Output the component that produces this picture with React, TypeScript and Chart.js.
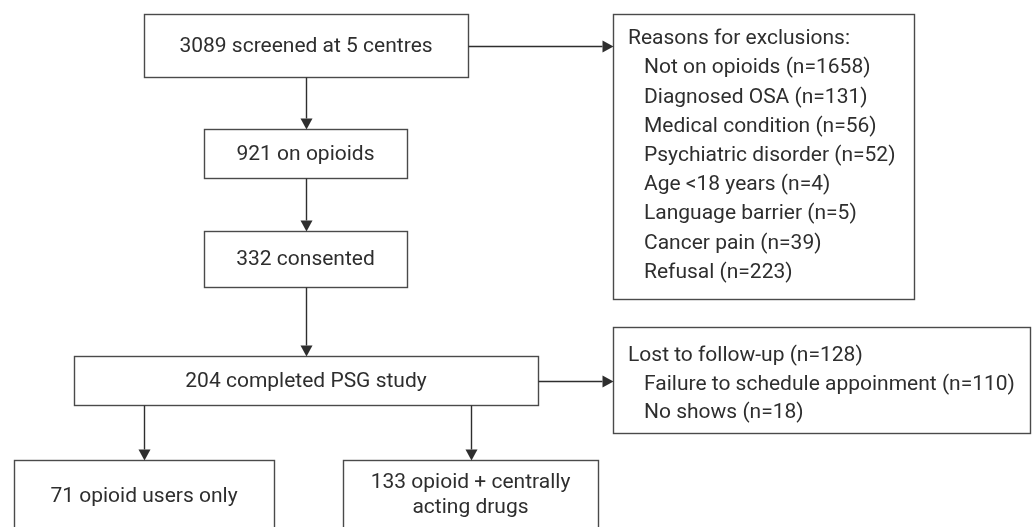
import React, { useEffect, useRef } from "react";
import { Chart, registerables } from "chart.js";

Chart.register(...registerables);

// ---------- DATA ----------
const flowCounts = [3089, 921, 332, 204];
const flowLabels = ["screened at 5 centres", "on opioids", "consented", "completed PSG study"];

const exclusionTitle = "Reasons for exclusions:";
const exclusionReasons = [
  "Not on opioids",
  "Diagnosed OSA",
  "Medical condition",
  "Psychiatric disorder",
  "Age <18 years",
  "Language barrier",
  "Cancer pain",
  "Refusal",
];
const exclusionCounts = [1658, 131, 56, 52, 4, 5, 39, 223];

const lostTitle = "Lost to follow-up";
const lostTotal = 128;
const lostReasons = ["Failure to schedule appoinment", "No shows"];
const lostCounts = [110, 18];

const groupCounts = [71, 133];
const groupLabels = [["opioid users only"], ["opioid + centrally", "acting drugs"]];

// ---------- LAYOUT (axis units) ----------
const W = 1033;
const H = 527;
const mainBoxes = [
  { x0: 144, x1: 468, y0: 14, y1: 77 },
  { x0: 204, x1: 407, y0: 129, y1: 178 },
  { x0: 204, x1: 407, y0: 231, y1: 287 },
  { x0: 74, x1: 538, y0: 356, y1: 405 },
];
const exclBox = { x0: 613, x1: 914, y0: 14, y1: 299, tx: 628, ty: 39, lh: 29.2, indent: 16 };
const lostBox = { x0: 613, x1: 1030, y0: 327, y1: 433, tx: 628, ty: 356, lh: 28.6, indent: 16 };
const groupBoxes = [
  { x0: 14, x1: 274, y0: 460, y1: 560, ty: 497 },
  { x0: 343, x1: 598, y0: 460, y1: 560, ty: 483 },
];
const groupLineH = 25;
const arrows = [
  [306, 77, 306, 129],
  [306, 178, 306, 231],
  [306, 287, 306, 356],
  [468, 46, 613, 46],
  [538, 381, 613, 381],
  [144, 405, 144, 460],
  [471, 405, 471, 460],
];

const FONT = '21px Roboto, "DejaVu Sans", sans-serif';
const TEXT = "#2e2e2e";
const BORDER = "#4a4a4a";
const LINE = "#2e2e2e";

const flowPlugin = {
  id: "flowPlugin",
  afterDatasetsDraw(chart: any) {
    const ctx = chart.ctx;
    const sx = chart.scales.x;
    const sy = chart.scales.y;
    const px = (v: number) => sx.getPixelForValue(v);
    const py = (v: number) => sy.getPixelForValue(v);

    const rect = (b: any) => {
      const x0 = Math.round(px(b.x0)) + 0.5;
      const y0 = Math.round(py(b.y0)) + 0.5;
      const x1 = Math.round(px(b.x1)) + 0.5;
      const y1 = Math.round(py(b.y1)) + 0.5;
      ctx.strokeRect(x0, y0, x1 - x0, y1 - y0);
    };

    ctx.save();
    ctx.fillStyle = "#ffffff";
    ctx.fillRect(0, 0, chart.width, chart.height);

    // boxes
    ctx.strokeStyle = BORDER;
    ctx.lineWidth = 1.4;
    mainBoxes.forEach(rect);
    rect(exclBox);
    rect(lostBox);
    groupBoxes.forEach(rect);

    // arrows
    ctx.strokeStyle = LINE;
    ctx.fillStyle = LINE;
    ctx.lineWidth = 1.4;
    arrows.forEach(([a, b, c, d]) => {
      const x0 = px(a), y0 = py(b), x1 = px(c), y1 = py(d);
      const ang = Math.atan2(y1 - y0, x1 - x0);
      const hl = 11, hw = 6;
      const bx = x1 - hl * Math.cos(ang);
      const by = y1 - hl * Math.sin(ang);
      ctx.beginPath();
      ctx.moveTo(Math.round(x0) + 0.5, Math.round(y0) + 0.5);
      ctx.lineTo(Math.round(bx) + 0.5, Math.round(by) + 0.5);
      ctx.stroke();
      ctx.beginPath();
      ctx.moveTo(x1 + 0.5, y1 + 0.5);
      ctx.lineTo(bx + hw * Math.sin(ang) + 0.5, by - hw * Math.cos(ang) + 0.5);
      ctx.lineTo(bx - hw * Math.sin(ang) + 0.5, by + hw * Math.cos(ang) + 0.5);
      ctx.closePath();
      ctx.fill();
    });

    // texts
    ctx.fillStyle = TEXT;
    ctx.font = FONT;
    ctx.textBaseline = "middle";
    ctx.textAlign = "center";
    mainBoxes.forEach((b, i) => {
      ctx.fillText(`${flowCounts[i]} ${flowLabels[i]}`, px((b.x0 + b.x1) / 2), py((b.y0 + b.y1) / 2) + 1);
    });
    groupBoxes.forEach((b, i) => {
      groupLabels[i].forEach((line, j) => {
        const t = j === 0 ? `${groupCounts[i]} ${line}` : line;
        ctx.fillText(t, px((b.x0 + b.x1) / 2), py(b.ty + j * groupLineH));
      });
    });

    ctx.textAlign = "left";
    ctx.fillText(exclusionTitle, px(exclBox.tx), py(exclBox.ty));
    exclusionReasons.forEach((r, i) => {
      ctx.fillText(`${r} (n=${exclusionCounts[i]})`, px(exclBox.tx + exclBox.indent), py(exclBox.ty + (i + 1) * exclBox.lh));
    });
    ctx.fillText(`${lostTitle} (n=${lostTotal})`, px(lostBox.tx), py(lostBox.ty));
    lostReasons.forEach((r, i) => {
      ctx.fillText(`${r} (n=${lostCounts[i]})`, px(lostBox.tx + lostBox.indent), py(lostBox.ty + (i + 1) * lostBox.lh));
    });
    ctx.restore();
  },
};

export default function App() {
  const ref = useRef<HTMLCanvasElement | null>(null);
  useEffect(() => {
    document.body.style.margin = "0";
    const canvas = ref.current!;
    const centers = mainBoxes.map((b, i) => ({ x: (b.x0 + b.x1) / 2, y: (b.y0 + b.y1) / 2, n: flowCounts[i] }));
    const chart = new Chart(canvas, {
      type: "scatter",
      data: {
        datasets: [
          {
            label: "nodes",
            data: centers,
            pointRadius: 0,
            pointHoverRadius: 0,
          },
        ],
      },
      options: {
        animation: false,
        responsive: false,
        maintainAspectRatio: false,
        devicePixelRatio: 1,
        layout: { padding: 0 },
        events: [],
        plugins: { legend: { display: false }, tooltip: { enabled: false } },
        scales: {
          x: { type: "linear", min: 0, max: W, display: false },
          y: { type: "linear", min: 0, max: H, reverse: true, display: false },
        },
      },
      plugins: [flowPlugin],
    });
    if ((document as any).fonts && (document as any).fonts.load) {
      (document as any).fonts.load(FONT).then(() => chart.draw()).catch(() => {});
    }
    return () => chart.destroy();
  }, []);
  return (
    <div style={{ position: "absolute", left: 0, top: 0, width: W, height: H }}>
      <canvas ref={ref} width={W} height={H} style={{ display: "block", width: W, height: H }} />
    </div>
  );
}
